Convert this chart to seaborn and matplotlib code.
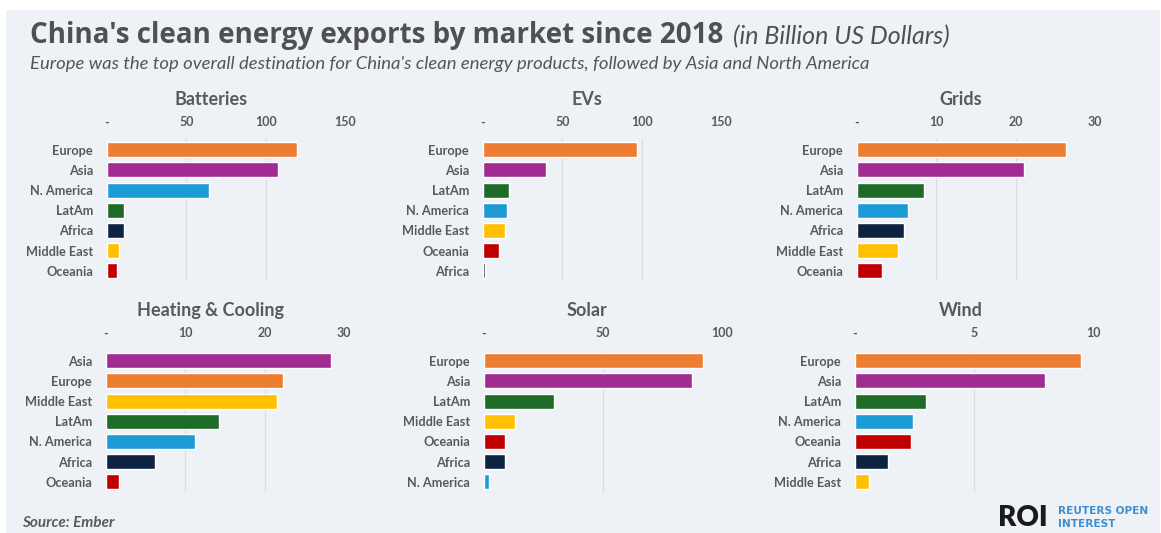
import matplotlib
matplotlib.use("Agg")
import matplotlib.pyplot as plt
from matplotlib.ticker import FuncFormatter
from matplotlib.patches import Rectangle
import seaborn as sns
import pandas as pd

# Export values by market (billion USD), each panel sorted largest first
batteries_regions = ["Europe", "Asia", "N. America", "LatAm", "Africa", "Middle East", "Oceania"]
batteries_values = [120, 108, 64.5, 11, 10.7, 7.8, 6.5]

evs_regions = ["Europe", "Asia", "LatAm", "N. America", "Middle East", "Oceania", "Africa"]
evs_values = [97, 39.5, 16.4, 14.9, 14, 10, 1.2]

grids_regions = ["Europe", "Asia", "LatAm", "N. America", "Africa", "Middle East", "Oceania"]
grids_values = [26.4, 21.1, 8.5, 6.4, 5.9, 5.2, 3.1]

heating_regions = ["Asia", "Europe", "Middle East", "LatAm", "N. America", "Africa", "Oceania"]
heating_values = [28.3, 22.3, 21.5, 14.3, 11.2, 6.2, 1.6]

solar_regions = ["Europe", "Asia", "LatAm", "Middle East", "Oceania", "Africa", "N. America"]
solar_values = [92.1, 87.5, 29.6, 13, 8.7, 8.8, 2.2]

wind_regions = ["Europe", "Asia", "LatAm", "N. America", "Oceania", "Africa", "Middle East"]
wind_values = [9.5, 8.0, 3.0, 2.45, 2.35, 1.4, 0.6]

panel_titles = ["Batteries", "EVs", "Grids", "Heating & Cooling", "Solar", "Wind"]
panel_ticks = [[0, 50, 100, 150], [0, 50, 100, 150], [0, 10, 20, 30],
               [0, 10, 20, 30], [0, 50, 100], [0, 5, 10]]

region_colors = {
    "Europe": "#ED7D31",
    "Asia": "#A12B91",
    "N. America": "#1D9BD7",
    "LatAm": "#1E6B28",
    "Africa": "#0E2341",
    "Middle East": "#FFC000",
    "Oceania": "#C00000",
}

panels = [
    (batteries_regions, batteries_values),
    (evs_regions, evs_values),
    (grids_regions, grids_values),
    (heating_regions, heating_values),
    (solar_regions, solar_values),
    (wind_regions, wind_values),
]

sns.set_theme(style="white")
plt.rcParams["font.family"] = ["Lato", "DejaVu Sans"]

BG = "#EEF2F7"
TXT = "#595959"

W, H = 1161, 533
fig = plt.figure(figsize=(W / 100, H / 100), dpi=100)
fig.patch.set_facecolor("white")
fig.patches.append(Rectangle((6 / W, 0), 1 - 7 / W, 1 - 10 / H, transform=fig.transFigure,
                             facecolor=BG, edgecolor="none", zorder=-1))

title = fig.text(30 / W, 1 - 35 / H, "China's clean energy exports by market since 2018",
                 fontsize=20, fontweight="bold", color="#505050", va="center", ha="left",
                 family=["Open Sans", "DejaVu Sans"])
fig.text(30 / W, 1 - 64 / H,
         "Europe was the top overall destination for China's clean energy products, "
         "followed by Asia and North America",
         fontsize=13.3, fontstyle="italic", color="#555555", va="center", ha="left")

cols_top = [107, 483, 857]
cols_bottom = [106, 484, 855]
title_centers = [211, 587, 961]
tops = [139.5, 350.5]
ax_w, ax_h = 238, 141.5


def fmt(v, _pos):
    return "-" if v == 0 else f"{v:g}"


for i, ((regions, values), name, ticks) in enumerate(zip(panels, panel_titles, panel_ticks)):
    row, col = divmod(i, 3)
    x0 = cols_top[col] if row == 0 else cols_bottom[col]
    y_top = tops[row]
    ax = fig.add_axes([x0 / W, 1 - (y_top + ax_h) / H, ax_w / W, ax_h / H])
    ax.set_facecolor("none")
    df = pd.DataFrame({"region": regions, "value": values})
    sns.barplot(data=df, x="value", y="region", hue="region", palette=region_colors,
                order=regions, legend=False, width=0.74, ax=ax, saturation=1)
    ax.set_xlim(0, ticks[-1])
    ax.set_ylim(len(regions) - 0.5, -0.5)
    ax.set_xticks(ticks)
    ax.xaxis.set_major_formatter(FuncFormatter(fmt))
    ax.xaxis.tick_top()
    ax.tick_params(axis="x", length=0, pad=8, labelsize=9, labelcolor=TXT)
    ax.tick_params(axis="y", length=0, pad=10, labelsize=9.2, labelcolor=TXT)
    for lbl in ax.get_xticklabels() + ax.get_yticklabels():
        lbl.set_fontweight("bold")
    ax.set_xlabel("")
    ax.set_ylabel("")
    for s in ax.spines.values():
        s.set_visible(False)
    for t in ticks[1:]:
        ax.axvline(t, color="#D9DDE2", lw=0.9, zorder=0)
    fig.text(title_centers[col] / W, 1 - (y_top - 40) / H, name, fontsize=13,
             fontweight="bold", color=TXT, ha="center", va="center")

fig.text(22 / W, 1 - 523 / H, "Source: Ember", fontsize=11, fontweight="bold",
         fontstyle="italic", color=TXT, va="center", ha="left")
fig.text(998 / W, 1 - 518 / H, "ROI", fontsize=20, fontweight="heavy", color="#1A1A1A",
         va="center", ha="left")
fig.text(1058 / W, 1 - 511 / H, "REUTERS OPEN", fontsize=7.6, fontweight="bold",
         color="#3F8FD0", va="center", ha="left", family="DejaVu Sans")
fig.text(1058 / W, 1 - 524 / H, "INTEREST", fontsize=7.6, fontweight="bold",
         color="#3F8FD0", va="center", ha="left", family="DejaVu Sans")

# Unit note placed right after the end of the headline
fig.canvas.draw()
bb = title.get_window_extent(fig.canvas.get_renderer())
fig.text((bb.x1 + 10) / W, 1 - 37 / H, "(in Billion US Dollars)", fontsize=18,
         fontstyle="italic", color="#505050", va="center", ha="left")

fig.savefig("out.png", dpi=100, facecolor=fig.get_facecolor())
